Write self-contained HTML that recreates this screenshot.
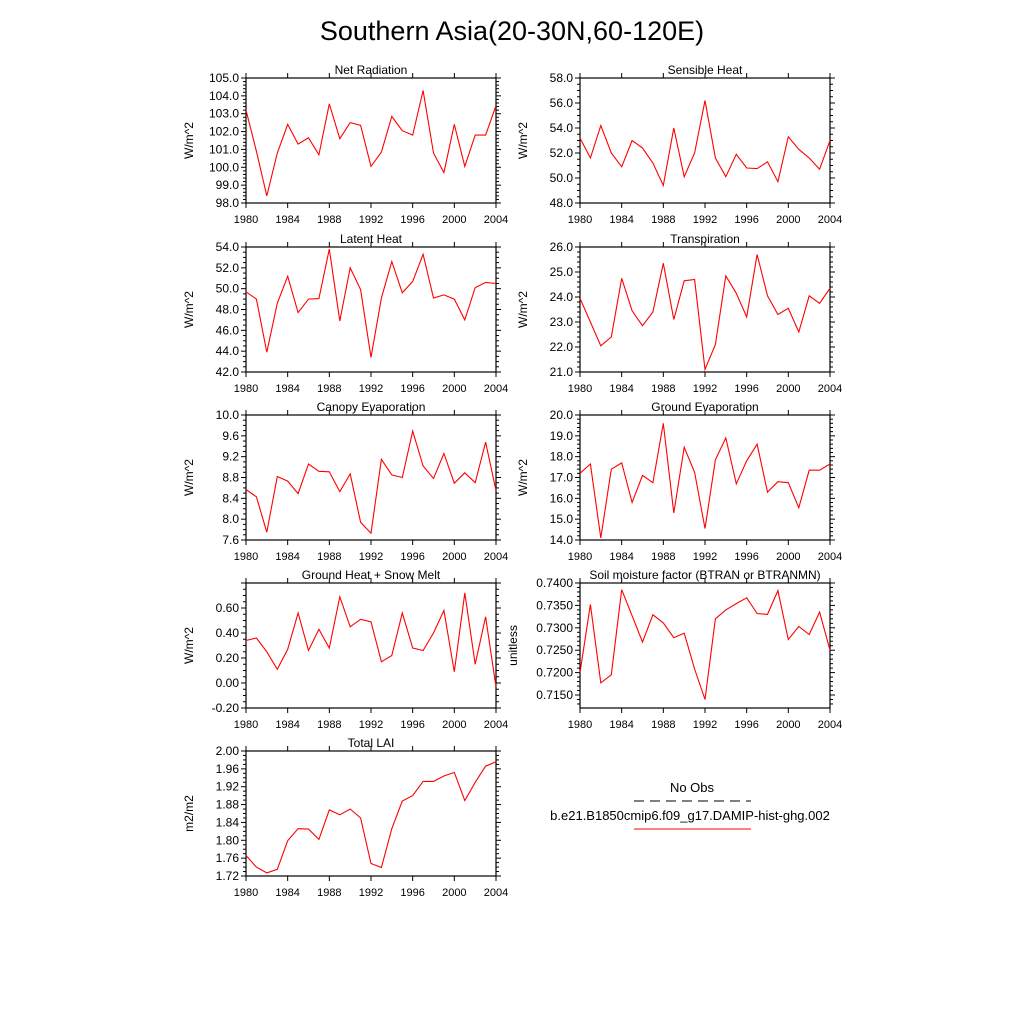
<!DOCTYPE html>
<html><head><meta charset="utf-8"><style>
body{margin:0;background:#fff;}
svg text{font-family:"Liberation Sans",sans-serif;fill:#000;}
</style></head><body>
<svg id="c" width="1024" height="1024" xmlns="http://www.w3.org/2000/svg">
<rect width="1024" height="1024" fill="#fff"/>
<text x="512" y="40" font-size="27" text-anchor="middle">Southern Asia(20-30N,60-120E)</text>
<g>
<text x="692" y="792" font-size="13" text-anchor="middle">No Obs</text>
<line x1="634" y1="801" x2="751" y2="801" stroke="#000" stroke-width="1" stroke-dasharray="10,6"/>
<text x="690" y="820" font-size="13" text-anchor="middle">b.e21.B1850cmip6.f09_g17.DAMIP-hist-ghg.002</text>
<line x1="634" y1="829" x2="751" y2="829" stroke="#f00" stroke-width="1"/>
</g>
</svg>
<script>
const years=[1980,1981,1982,1983,1984,1985,1986,1987,1988,1989,1990,1991,1992,1993,1994,1995,1996,1997,1998,1999,2000,2001,2002,2003,2004];
const xTickLabels=[1980,1984,1988,1992,1996,2000,2004];
const netRad=[103.2,100.9,98.4,100.8,102.4,101.3,101.65,100.7,103.55,101.6,102.5,102.35,100.05,100.85,102.85,102.05,101.8,104.3,100.8,99.7,102.4,100.05,101.8,101.8,103.45];
const sensible=[53.2,51.6,54.2,52.0,50.9,53.0,52.4,51.2,49.4,54.0,50.1,52.0,56.2,51.6,50.1,51.9,50.8,50.75,51.3,49.7,53.3,52.3,51.6,50.7,53.0];
const latent=[49.7,49.0,43.9,48.6,51.2,47.7,49.0,49.05,53.8,46.9,52.0,49.9,43.4,49.1,52.6,49.6,50.7,53.3,49.1,49.4,49.0,47.0,50.1,50.6,50.5];
const transp=[23.95,23.0,22.05,22.4,24.75,23.45,22.85,23.4,25.35,23.1,24.65,24.7,21.1,22.1,24.85,24.15,23.2,25.7,24.05,23.3,23.55,22.6,24.05,23.75,24.35];
const canopy=[8.57,8.43,7.75,8.82,8.73,8.49,9.06,8.92,8.91,8.53,8.87,7.94,7.73,9.15,8.85,8.80,9.69,9.02,8.78,9.26,8.69,8.89,8.70,9.48,8.55];
const groundEvap=[17.2,17.65,14.1,17.4,17.7,15.8,17.1,16.75,19.6,15.3,18.45,17.25,14.55,17.85,18.9,16.7,17.8,18.6,16.3,16.8,16.75,15.55,17.35,17.35,17.65];
const groundHeat=[0.34,0.36,0.25,0.11,0.27,0.56,0.26,0.43,0.28,0.69,0.45,0.51,0.49,0.17,0.22,0.56,0.28,0.26,0.40,0.58,0.09,0.72,0.15,0.53,-0.03];
const soil=[0.7200,0.7352,0.7177,0.7195,0.7385,0.7327,0.7268,0.7329,0.7311,0.7278,0.7288,0.7208,0.7140,0.7320,0.7340,0.7354,0.7367,0.7332,0.7330,0.7383,0.7274,0.7303,0.7285,0.7335,0.7250];
const lai=[1.766,1.740,1.727,1.735,1.799,1.826,1.825,1.802,1.868,1.857,1.870,1.850,1.748,1.739,1.826,1.888,1.900,1.932,1.932,1.944,1.952,1.889,1.930,1.966,1.976];
const netRadTicks=[98,99,100,101,102,103,104,105];
const sensibleTicks=[48,50,52,54,56,58];
const latentTicks=[42,44,46,48,50,52,54];
const transpTicks=[21,22,23,24,25,26];
const canopyTicks=[7.6,8.0,8.4,8.8,9.2,9.6,10.0];
const groundEvapTicks=[14,15,16,17,18,19,20];
const groundHeatTicks=[-0.2,0,0.2,0.4,0.6];
const soilTicks=[0.715,0.72,0.725,0.73,0.735,0.74];
const laiTicks=[1.72,1.76,1.80,1.84,1.88,1.92,1.96,2.00];

const NS="http://www.w3.org/2000/svg";
const svg=document.getElementById('c');
function mk(tag,attrs,parent){const e=document.createElementNS(NS,tag);for(const k in attrs)e.setAttribute(k,attrs[k]);parent.appendChild(e);return e;}
const panels=[
 {name:'net-radiation',title:'Net Radiation',unit:'W/m^2',x:246,y:78,data:netRad,min:98,max:105,ticks:netRadTicks,dec:1,minor:5},
 {name:'sensible-heat',title:'Sensible Heat',unit:'W/m^2',x:580,y:78,data:sensible,min:48,max:58,ticks:sensibleTicks,dec:1,minor:4},
 {name:'latent-heat',title:'Latent Heat',unit:'W/m^2',x:246,y:247,data:latent,min:42,max:54,ticks:latentTicks,dec:1,minor:4},
 {name:'transpiration',title:'Transpiration',unit:'W/m^2',x:580,y:247,data:transp,min:21,max:26,ticks:transpTicks,dec:1,minor:5},
 {name:'canopy-evaporation',title:'Canopy Evaporation',unit:'W/m^2',x:246,y:415,data:canopy,min:7.6,max:10.0,ticks:canopyTicks,dec:1,minor:4},
 {name:'ground-evaporation',title:'Ground Evaporation',unit:'W/m^2',x:580,y:415,data:groundEvap,min:14,max:20,ticks:groundEvapTicks,dec:1,minor:5},
 {name:'ground-heat',title:'Ground Heat + Snow Melt',unit:'W/m^2',x:246,y:583,data:groundHeat,min:-0.2,max:0.8,ticks:groundHeatTicks,dec:2,minor:4},
 {name:'soil-moisture',title:'Soil moisture factor (BTRAN or BTRANMN)',unit:'unitless',x:580,y:583,data:soil,min:0.7121,max:0.74,ticks:soilTicks,dec:4,minor:5},
 {name:'total-lai',title:'Total LAI',unit:'m2/m2',x:246,y:751,data:lai,min:1.72,max:2.00,ticks:laiTicks,dec:2,minor:4}
];
const W=250,H=125;
panels.forEach(p=>{
 const g=mk('g',{},svg);
 
 
 const sx=v=>p.x+(v-1980)/24*W;
 const sy=v=>p.y+H-(v-p.min)/(p.max-p.min)*H;
 const fr=mk('rect',{x:p.x,y:p.y,width:W,height:H,fill:'none',stroke:'#000','stroke-width':1.2},g);
 
 
 const t=mk('text',{x:p.x+W/2,y:p.y-4,'font-size':12,'text-anchor':'middle'},g);
 t.textContent=p.title;
 
 
 const yl=mk('text',{x:0,y:0,'font-size':12,'text-anchor':'middle',transform:`translate(${p.name==='soil-moisture'?p.x-63:p.x-53},${p.y+H/2}) rotate(-90)`},g);
 yl.textContent=p.unit;
 
 
 // y ticks
 const step=p.ticks[1]-p.ticks[0];
 const mstep=step/p.minor;
 for(let v=p.ticks[0]-step*3;v<=p.max+1e-9;v+=mstep){
   if(v<p.min-1e-9) continue;
   const yy=sy(v);
   const isMaj=Math.abs(((v-p.ticks[0])/step)-Math.round((v-p.ticks[0])/step))<1e-6;
   const len=isMaj?5:3;
   mk('line',{x1:p.x-len,y1:yy,x2:p.x,y2:yy,stroke:'#000','stroke-width':1},g);
   mk('line',{x1:p.x+W,y1:yy,x2:p.x+W+len,y2:yy,stroke:'#000','stroke-width':1},g);
 }
 p.ticks.forEach(v=>{
   const tx=mk('text',{x:p.x-7,y:sy(v)+4,'font-size':12,'text-anchor':'end'},g);
   tx.textContent=v.toFixed(p.dec);
   
   
 });
 // x ticks
 years.forEach(yv=>{
   const maj=xTickLabels.includes(yv);
   const len=maj?5:0;
   if(!maj)return;
   mk('line',{x1:sx(yv),y1:p.y+H,x2:sx(yv),y2:p.y+H+len,stroke:'#000','stroke-width':1},g);
   mk('line',{x1:sx(yv),y1:p.y,x2:sx(yv),y2:p.y-len,stroke:'#000','stroke-width':1},g);
 });
 xTickLabels.forEach(yv=>{
   const tx=mk('text',{x:sx(yv),y:p.y+H+20,'font-size':11,'text-anchor':'middle'},g);
   tx.textContent=yv;
   
   
 });
 const pts=p.data.map((v,i)=>sx(years[i]).toFixed(1)+','+sy(v).toFixed(1)).join(' ');
 const ln=mk('polyline',{points:pts,fill:'none',stroke:'#f00','stroke-width':1.1},g);
 
 
});
</script>
</body></html>
